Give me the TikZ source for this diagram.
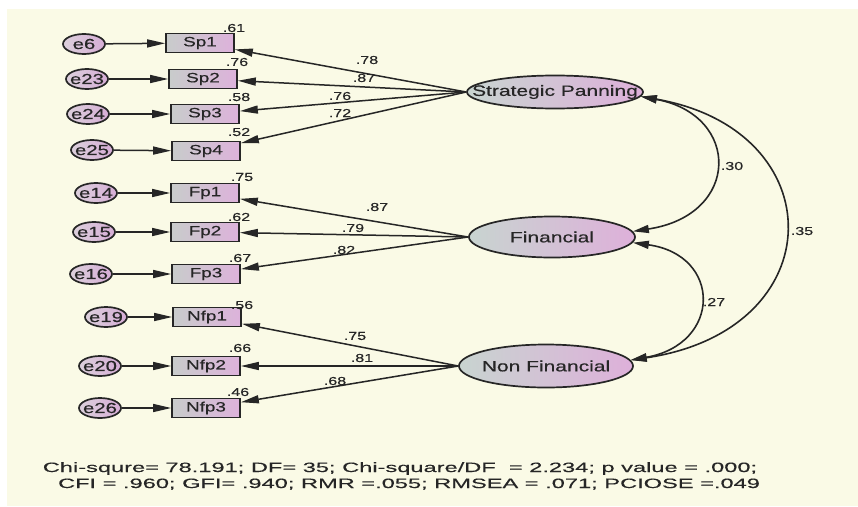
\documentclass[tikz,border=0pt]{standalone}
\usepackage{fontspec}
\setmainfont{Liberation Sans}
\newfontfamily\dfont[FakeStretch=1.4,FakeBold=0.5]{Liberation Sans}
\newfontfamily\efont[FakeStretch=1.4,FakeBold=0.5]{Liberation Sans}
\newfontfamily\bfont[FakeStretch=1.75,FakeBold=0.3]{Liberation Sans}
\usetikzlibrary{arrows.meta,shapes.geometric}
\definecolor{bg}{HTML}{FAFAE6}
\definecolor{ink}{HTML}{262626}
\definecolor{boxL}{HTML}{C8CCCB}
\definecolor{boxR}{HTML}{DDB2DB}
\definecolor{eL}{HTML}{DCD0DC}
\definecolor{eR}{HTML}{D6ADD6}
\definecolor{latL}{HTML}{C8D4D0}
\definecolor{latR}{HTML}{DEB0DA}
\begin{document}
\begin{tikzpicture}[x=1pt,y=-1pt,
  errnode/.style={ellipse, draw=ink, line width=1.7pt, minimum width=42pt, minimum height=20pt, inner sep=0pt, left color=eL, right color=eR, font=\efont\fontsize{14.5}{16}\selectfont, text=ink},
  obsnode/.style={rectangle, draw=ink, line width=1.7pt, minimum width=68pt, minimum height=19pt, inner sep=0pt, left color=boxL, right color=boxR, font=\dfont\fontsize{13.5}{15}\selectfont, text=ink},
  latnode/.style={ellipse, draw=ink, line width=1.7pt, inner sep=0pt, left color=latL, right color=latR, font=\dfont\fontsize{15}{17}\selectfont, text=ink},
  num/.style={font=\dfont\fontsize{11.5}{13}\selectfont, text=ink, inner sep=0pt},
  foot/.style={font=\bfont\fontsize{13.5}{15}\selectfont, text=ink, inner sep=0pt},
  arr/.style={draw=ink, line width=1.5pt, -{Triangle[length=18pt,width=8pt]}},
  dbl/.style={draw=ink, line width=1.6pt, {Triangle[length=16pt,width=8pt]}-{Triangle[length=16pt,width=8pt]}}
]
\useasboundingbox (0,0) rectangle (858,506);
\fill[white] (0,0) rectangle (858,506);
\fill[bg] (7,9) rectangle (858,506);

% latent variables
\node[latnode, minimum width=176pt, minimum height=33pt] (SP) at (555,92) {\makebox[0pt]{Strategic Panning}};
\node[latnode, minimum width=166pt, minimum height=41pt] (Fin) at (552,237) {\makebox[0pt]{Financial}};
\node[latnode, minimum width=174pt, minimum height=43pt] (NF) at (546,366) {\makebox[0pt]{Non Financial}};

% observed variables
\node[obsnode] (Sp1) at (200,43) {Sp1};
\node[obsnode] (Sp2) at (203,79) {Sp2};
\node[obsnode] (Sp3) at (205,114) {Sp3};
\node[obsnode] (Sp4) at (206,151) {Sp4};
\node[obsnode] (Fp1) at (205,193) {Fp1};
\node[obsnode] (Fp2) at (205,232) {Fp2};
\node[obsnode] (Fp3) at (206,274) {Fp3};
\node[obsnode] (Nfp1) at (207,317) {Nfp1};
\node[obsnode] (Nfp2) at (206,366) {Nfp2};
\node[obsnode] (Nfp3) at (206,408) {Nfp3};

% error terms
\node[errnode] (e6) at (84,44) {\makebox[0pt]{e6}};
\node[errnode] (e23) at (87,79) {\makebox[0pt]{e23}};
\node[errnode] (e24) at (88,114) {\makebox[0pt]{e24}};
\node[errnode] (e25) at (92,150) {\makebox[0pt]{e25}};
\node[errnode] (e14) at (96,193) {\makebox[0pt]{e14}};
\node[errnode] (e15) at (94,232) {\makebox[0pt]{e15}};
\node[errnode] (e16) at (91,274) {\makebox[0pt]{e16}};
\node[errnode] (e19) at (106,317) {\makebox[0pt]{e19}};
\node[errnode] (e20) at (100,366) {\makebox[0pt]{e20}};
\node[errnode] (e26) at (100,408) {\makebox[0pt]{e26}};

% error arrows
\draw[arr] (e6) -- (Sp1);
\draw[arr] (e23) -- (Sp2);
\draw[arr] (e24) -- (Sp3);
\draw[arr] (e25) -- (Sp4);
\draw[arr] (e14) -- (Fp1);
\draw[arr] (e15) -- (Fp2);
\draw[arr] (e16) -- (Fp3);
\draw[arr] (e19) -- (Nfp1);
\draw[arr] (e20) -- (Nfp2);
\draw[arr] (e26) -- (Nfp3);

% loadings
\draw[arr] (SP.west) -- (Sp1);
\draw[arr] (SP.west) -- (Sp2);
\draw[arr] (SP.west) -- (Sp3);
\draw[arr] (SP.west) -- (Sp4);
\draw[arr] (Fin.west) -- (Fp1);
\draw[arr] (Fin.west) -- (Fp2);
\draw[arr] (Fin.west) -- (Fp3);
\draw[arr] (NF.west) -- (Nfp1);
\draw[arr] (NF.west) -- (Nfp2);
\draw[arr] (NF.west) -- (Nfp3);

% covariances
\draw[dbl] (SP.-3) .. controls (741,115) and (741,215) .. (Fin.4);
\draw[dbl] (SP.-3) .. controls (834,130) and (834,330) .. (NF.4);
\draw[dbl] (Fin.-4) .. controls (722,255) and (722,344) .. (NF.4);

% squared multiple correlations
\node[num] (r1) at (234,28) {.61};
\node[num] (r2) at (237,62) {.76};
\node[num] (r3) at (239,97) {.58};
\node[num] (r4) at (239,132) {.52};
\node[num] (r5) at (242,177) {.75};
\node[num] (r6) at (239,217) {.62};
\node[num] (r7) at (240,258) {.67};
\node[num] (r8) at (242,305) {.56};
\node[num] (r9) at (240,348) {.66};
\node[num] (r10) at (238,392) {.46};

% loading values
\node[num] (l1) at (367,60) {.78};
\node[num] (l2) at (364,78) {.87};
\node[num] (l3) at (340,96) {.76};
\node[num] (l4) at (340,113) {.72};
\node[num] (l5) at (377,207) {.87};
\node[num] (l6) at (353,228) {.79};
\node[num] (l7) at (344,250) {.82};
\node[num] (l8) at (355,336) {.75};
\node[num] (l9) at (362,358) {.81};
\node[num] (l10) at (335,381) {.68};

% correlations
\node[num] (c1) at (732,166) {.30};
\node[num] (c2) at (802,231) {.35};
\node[num] (c3) at (714,302) {.27};

% fit statistics
\node[foot, anchor=base] (fit1) at (400,472) {Chi-squre= 78.191; DF= 35; Chi-square/DF~ = 2.234; p value = .000;};
\node[foot, anchor=base] (fit2) at (409,488) {CFI = .960; GFI= .940; RMR =.055; RMSEA = .071; PCIOSE =.049};
\end{tikzpicture}
\end{document}
